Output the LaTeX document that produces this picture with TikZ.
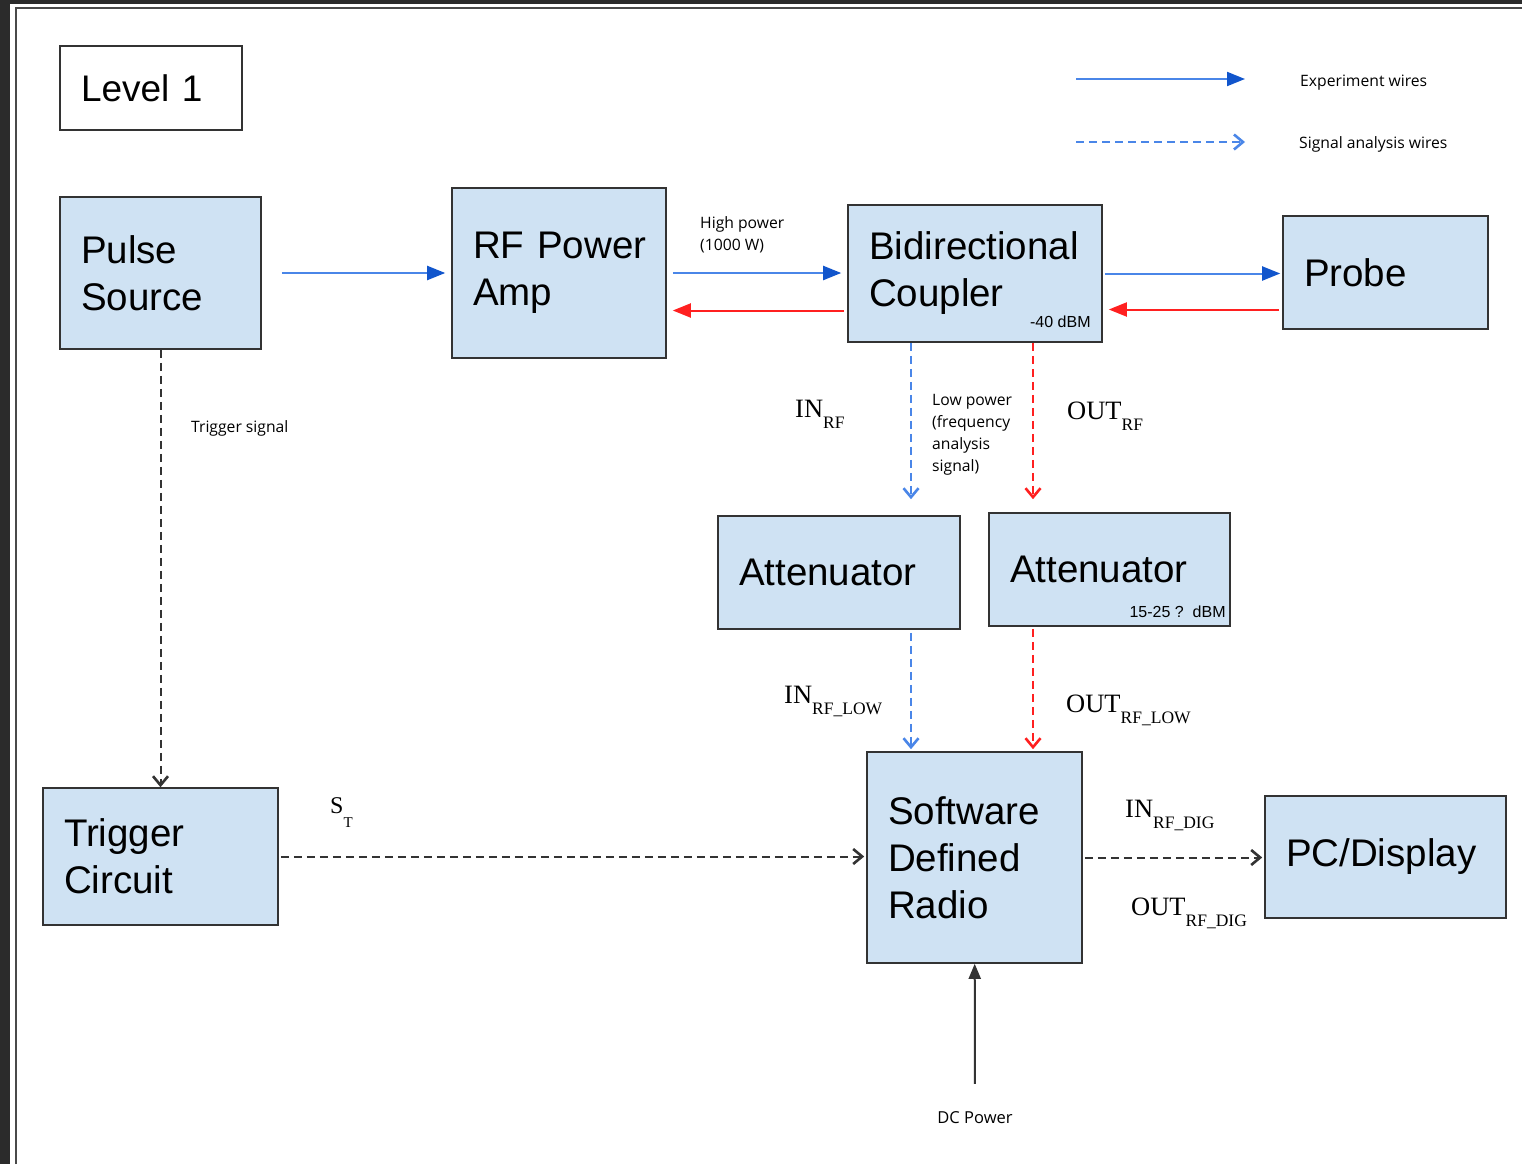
\documentclass[tikz,border=0pt]{standalone}
\usepackage{fontspec}
\setmainfont{Liberation Sans}
\newfontfamily\notefont{Open Sans}
\newfontfamily\portfont{Liberation Serif}
\usetikzlibrary{arrows.meta, positioning}

\definecolor{boxfill}{HTML}{CFE2F3}
\definecolor{boxline}{HTML}{333333}
\definecolor{wireblue}{HTML}{4A86E8}
\definecolor{tipblue}{HTML}{1155CC}
\definecolor{wirered}{HTML}{FF2020}
\definecolor{wiregray}{HTML}{333333}
\definecolor{screendark}{HTML}{2B2B2B}
\definecolor{frameline}{HTML}{4A4A4A}

% port name with lowered subscript, as in the sketch
\newcommand{\portlabel}[2]{{\portfont\fontsize{26.5}{26.5}\selectfont #1\raisebox{-11pt}{\fontsize{17.5}{17.5}\selectfont #2}}}

\begin{document}
\begin{tikzpicture}[
    x=1pt, y=-1pt,
    comp/.style={rectangle, draw=boxline, line width=1.6pt, fill=boxfill, inner xsep=21pt, inner ysep=0pt, align=left, font=\fontsize{38.5}{47}\selectfont},
    note/.style={inner sep=0pt, align=left, font=\notefont\fontsize{15.7}{22}\selectfont},
    tag/.style={inner sep=0pt, font=\fontsize{16}{16}\selectfont},
    port/.style={inner sep=0pt, anchor=base west},
    arrow/.style={-{Triangle[length=18pt, width=14pt, color=tipblue]}, draw=wireblue, line width=2pt},
    back/.style={-{Triangle[length=18pt, width=14pt]}, draw=wirered, line width=2pt},
    sig/.style={-{Straight Barb[length=9pt, width=15pt, line width=2.6pt]}, line width=2pt, dash pattern=on 8pt off 5pt},
    power/.style={-{Triangle[length=15pt, width=12pt]}, draw=wiregray, line width=2pt}
]
\useasboundingbox (0,0) rectangle (1522,1164);

% screen frame
\fill[screendark] (0,0) rectangle (1522,1164);
\fill[white] (10,4) rectangle (1522,1164);
\draw[frameline, line width=2pt] (16,1164) -- (16,8) -- (1522,8);

% Title and legend
\node[comp, fill=white, text width=140pt, minimum height=84pt, font=\fontsize{37}{37}\selectfont] (level) at (151,88) {Level 1};
\node[note, anchor=base west] (legexp) at (1300,86) {Experiment wires};
\node[note, anchor=base west] (legsig) at (1299,148) {Signal analysis wires};
\coordinate (legexpstart) at (1076,79);
\coordinate (legsigstart) at (1076,142);

% Top row
\node[comp, text width=159pt, minimum height=152pt] (pulse) at (160.5,273) {Pulse\\Source};
\node[comp, text width=172pt, minimum height=170pt] (amp) at (559,273) {RF~Power\\Amp};
\node[comp, text width=212pt, minimum height=137pt] (coupler) at (975,273.5) {Bidirectional\\Coupler};
\node[comp, text width=163pt, minimum height=113pt] (probe) at (1385.5,272.5) {Probe};
\node[tag, anchor=base east] (cpltag) at ([xshift=-12pt, yshift=15pt]coupler.south east) {-40 dBM};

% Attenuators
\node[comp, text width=200pt, minimum height=113pt] (attin) at (839,572.5) {Attenuator};
\node[comp, text width=199pt, minimum height=113pt] (attout) at (1109.5,569.5) {Attenuator};
\node[tag, anchor=base east] (atttag) at ([xshift=-5pt, yshift=9pt]attout.south east) {15-25 ?\ \ dBM};

% Bottom row
\node[comp, text width=193pt, minimum height=137pt] (trigger) at (160.5,856.5) {Trigger\\Circuit};
\node[comp, text width=173pt, minimum height=211pt] (sdr) at (974.5,857.5) {Software\\Defined\\Radio};
\node[comp, text width=199pt, minimum height=122pt] (pc) at (1385.5,857) {PC/Display};

% Labels (base = last line)
\node[note, anchor=base west] (highpow) at (700,250) {High power\\(1000 W)};
\node[note, anchor=base west] (trigsig) at (191,432) {Trigger signal};
\node[note, anchor=base west] (lowpow) at (932,471) {Low power\\(frequency\\analysis\\signal)};
\node[note, anchor=base, font=\notefont\fontsize{16.5}{16.5}\selectfont] (dc) at (975,1123) {DC Power};
\node[port] (inrf) at (795,417) {\portlabel{IN}{RF}};
\node[port] (outrf) at (1067,419) {\portlabel{OUT}{RF}};
\node[port] (inrflow) at (784,703) {\portlabel{IN}{RF\_LOW}};
\node[port] (outrflow) at (1066,712) {\portlabel{OUT}{RF\_LOW}};
\node[port] (inrfdig) at (1125,817) {\portlabel{IN}{RF\_DIG}};
\node[port] (outrfdig) at (1131,915) {\portlabel{OUT}{RF\_DIG}};
\node[port] (st) at (330,813) {\portfont\fontsize{24}{24}\selectfont S\raisebox{-14pt}{\fontsize{15}{15}\selectfont T}};

% Legend wires
\draw[arrow, shorten >=55pt] (legexpstart) -- (legexp.west |- legexpstart);
\draw[sig, draw=wireblue, shorten >=54pt] (legsigstart) -- (legsig.west |- legsigstart);

% Experiment wires
\draw[arrow, shorten <=20pt, shorten >=6pt] (pulse) -- (amp);
\draw[arrow, shorten <=6pt, shorten >=6pt] (amp.east) -- (amp.east -| coupler.west);
\draw[back, shorten <=3pt, shorten >=6pt] ([yshift=-37pt]coupler.west) -- ([yshift=-37pt]coupler.west -| amp.east);
\draw[arrow, shorten <=2pt, shorten >=2pt] (coupler.east) -- (coupler.east -| probe.west);
\draw[back, shorten <=3pt, shorten >=6pt] ([yshift=-37pt]probe.west) -- ([yshift=-37pt]probe.west -| coupler.east);

% Signal analysis wires
\coordinate (inx) at (911,0);
\coordinate (outx) at (1033,0);
\draw[sig, draw=wireblue, shorten >=16pt] (coupler.south -| inx) -- (attin.north -| inx);
\draw[sig, draw=wirered, shorten >=13pt] (coupler.south -| outx) -- (attout.north -| outx);
\draw[sig, draw=wireblue, shorten <=3pt, shorten >=2pt] (attin.south -| inx) -- (sdr.north -| inx);
\draw[sig, draw=wirered, shorten <=2pt, shorten >=2pt] (attout.south -| outx) -- (sdr.north -| outx);
\draw[sig, draw=wiregray] (pulse) -- (trigger);
\draw[sig, draw=wiregray, shorten <=2pt, shorten >=2pt] (trigger.east) -- (trigger.east -| sdr.west);
\draw[sig, draw=wiregray, shorten <=2pt, shorten >=2pt] (sdr.east) -- (sdr.east -| pc.west);
\draw[power, shorten <=27pt] (dc) -- (sdr);

\end{tikzpicture}
\end{document}
